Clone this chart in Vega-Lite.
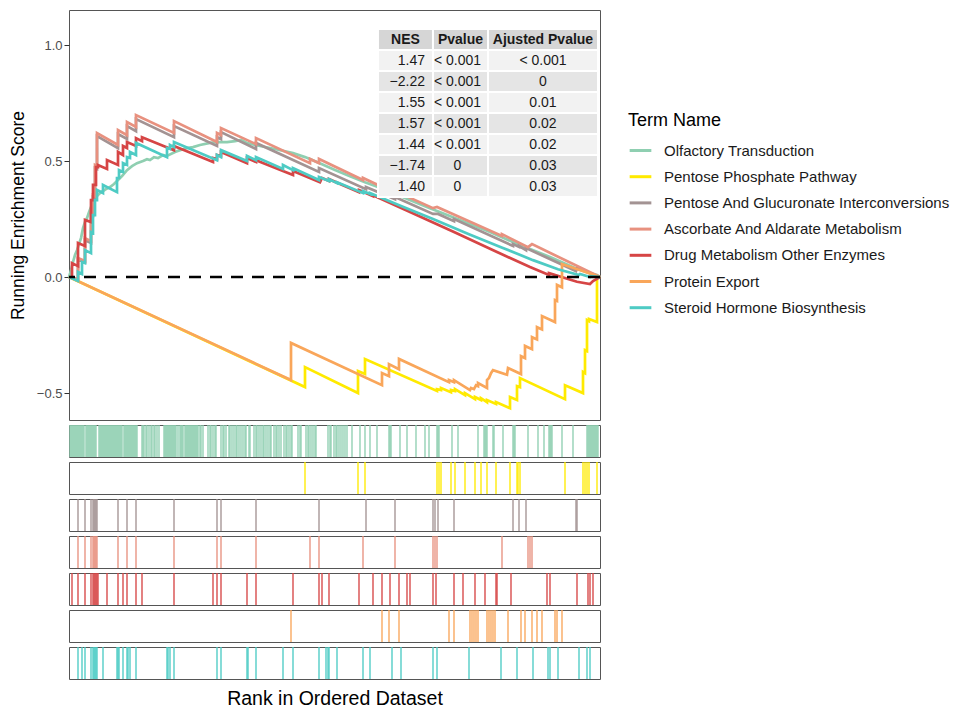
{
"$schema": "https://vega.github.io/schema/vega-lite/v6.json",
"padding": {"left": 8, "top": 9, "right": 5, "bottom": 5},
"background": "white",
"config": {"font": "Liberation Sans", "view": {"stroke": "#555555", "strokeWidth": 1}, "axis": {"grid": false}},
"datasets": {
"curves": [
{"term":"Olfactory Transduction","rank":0,"es":0},{"term":"Olfactory Transduction","rank":2,"es":0.030},{"term":"Olfactory Transduction","rank":4,"es":0.065},{"term":"Olfactory Transduction","rank":6,"es":0.095},{"term":"Olfactory Transduction","rank":8,"es":0.116},{"term":"Olfactory Transduction","rank":10,"es":0.142},{"term":"Olfactory Transduction","rank":12,"es":0.168},{"term":"Olfactory Transduction","rank":14,"es":0.211},{"term":"Olfactory Transduction","rank":16,"es":0.237},{"term":"Olfactory Transduction","rank":18,"es":0.254},{"term":"Olfactory Transduction","rank":20,"es":0.280},{"term":"Olfactory Transduction","rank":22,"es":0.302},{"term":"Olfactory Transduction","rank":24,"es":0.319},{"term":"Olfactory Transduction","rank":26,"es":0.336},{"term":"Olfactory Transduction","rank":28,"es":0.349},{"term":"Olfactory Transduction","rank":31,"es":0.362},{"term":"Olfactory Transduction","rank":34,"es":0.371},{"term":"Olfactory Transduction","rank":37,"es":0.379},{"term":"Olfactory Transduction","rank":41,"es":0.388},{"term":"Olfactory Transduction","rank":45,"es":0.401},{"term":"Olfactory Transduction","rank":49,"es":0.418},{"term":"Olfactory Transduction","rank":53,"es":0.435},{"term":"Olfactory Transduction","rank":58,"es":0.461},{"term":"Olfactory Transduction","rank":63,"es":0.478},{"term":"Olfactory Transduction","rank":68,"es":0.491},{"term":"Olfactory Transduction","rank":74,"es":0.500},{"term":"Olfactory Transduction","rank":78,"es":0.508},{"term":"Olfactory Transduction","rank":81,"es":0.504},{"term":"Olfactory Transduction","rank":85,"es":0.517},{"term":"Olfactory Transduction","rank":89,"es":0.513},{"term":"Olfactory Transduction","rank":94,"es":0.526},{"term":"Olfactory Transduction","rank":98,"es":0.522},{"term":"Olfactory Transduction","rank":106,"es":0.539},{"term":"Olfactory Transduction","rank":111,"es":0.547},{"term":"Olfactory Transduction","rank":118,"es":0.556},{"term":"Olfactory Transduction","rank":124,"es":0.560},{"term":"Olfactory Transduction","rank":131,"es":0.569},{"term":"Olfactory Transduction","rank":141,"es":0.578},{"term":"Olfactory Transduction","rank":149,"es":0.582},{"term":"Olfactory Transduction","rank":158,"es":0.582},{"term":"Olfactory Transduction","rank":166,"es":0.586},{"term":"Olfactory Transduction","rank":172,"es":0.591},{"term":"Olfactory Transduction","rank":178,"es":0.578},{"term":"Olfactory Transduction","rank":191,"es":0.565},{"term":"Olfactory Transduction","rank":206,"es":0.552},{"term":"Olfactory Transduction","rank":224,"es":0.534},{"term":"Olfactory Transduction","rank":236,"es":0.517},{"term":"Olfactory Transduction","rank":248,"es":0.496},{"term":"Olfactory Transduction","rank":266,"es":0.461},{"term":"Olfactory Transduction","rank":281,"es":0.435},{"term":"Olfactory Transduction","rank":296,"es":0.409},{"term":"Olfactory Transduction","rank":309,"es":0.388},{"term":"Olfactory Transduction","rank":331,"es":0.349},{"term":"Olfactory Transduction","rank":361,"es":0.297},{"term":"Olfactory Transduction","rank":391,"es":0.246},{"term":"Olfactory Transduction","rank":421,"es":0.194},{"term":"Olfactory Transduction","rank":451,"es":0.138},{"term":"Olfactory Transduction","rank":481,"es":0.086},{"term":"Olfactory Transduction","rank":506,"es":0.039},{"term":"Olfactory Transduction","rank":521,"es":0.017},{"term":"Olfactory Transduction","rank":528,"es":0.009},{"term":"Olfactory Transduction","rank":531,"es":0},
{"term":"Pentose Phosphate Pathway","rank":0,"es":0},{"term":"Pentose Phosphate Pathway","rank":236,"es":-0.474},{"term":"Pentose Phosphate Pathway","rank":236,"es":-0.388},{"term":"Pentose Phosphate Pathway","rank":289,"es":-0.500},{"term":"Pentose Phosphate Pathway","rank":289,"es":-0.405},{"term":"Pentose Phosphate Pathway","rank":296,"es":-0.418},{"term":"Pentose Phosphate Pathway","rank":296,"es":-0.353},{"term":"Pentose Phosphate Pathway","rank":368,"es":-0.491},{"term":"Pentose Phosphate Pathway","rank":368,"es":-0.483},{"term":"Pentose Phosphate Pathway","rank":372,"es":-0.487},{"term":"Pentose Phosphate Pathway","rank":372,"es":-0.478},{"term":"Pentose Phosphate Pathway","rank":382,"es":-0.496},{"term":"Pentose Phosphate Pathway","rank":382,"es":-0.487},{"term":"Pentose Phosphate Pathway","rank":386,"es":-0.491},{"term":"Pentose Phosphate Pathway","rank":386,"es":-0.483},{"term":"Pentose Phosphate Pathway","rank":396,"es":-0.509},{"term":"Pentose Phosphate Pathway","rank":396,"es":-0.500},{"term":"Pentose Phosphate Pathway","rank":406,"es":-0.526},{"term":"Pentose Phosphate Pathway","rank":406,"es":-0.517},{"term":"Pentose Phosphate Pathway","rank":412,"es":-0.530},{"term":"Pentose Phosphate Pathway","rank":412,"es":-0.522},{"term":"Pentose Phosphate Pathway","rank":418,"es":-0.539},{"term":"Pentose Phosphate Pathway","rank":418,"es":-0.530},{"term":"Pentose Phosphate Pathway","rank":427,"es":-0.547},{"term":"Pentose Phosphate Pathway","rank":427,"es":-0.539},{"term":"Pentose Phosphate Pathway","rank":441,"es":-0.565},{"term":"Pentose Phosphate Pathway","rank":441,"es":-0.517},{"term":"Pentose Phosphate Pathway","rank":448,"es":-0.530},{"term":"Pentose Phosphate Pathway","rank":448,"es":-0.470},{"term":"Pentose Phosphate Pathway","rank":451,"es":-0.474},{"term":"Pentose Phosphate Pathway","rank":451,"es":-0.435},{"term":"Pentose Phosphate Pathway","rank":496,"es":-0.526},{"term":"Pentose Phosphate Pathway","rank":496,"es":-0.466},{"term":"Pentose Phosphate Pathway","rank":514,"es":-0.500},{"term":"Pentose Phosphate Pathway","rank":514,"es":-0.409},{"term":"Pentose Phosphate Pathway","rank":516,"es":-0.414},{"term":"Pentose Phosphate Pathway","rank":516,"es":-0.315},{"term":"Pentose Phosphate Pathway","rank":518,"es":-0.319},{"term":"Pentose Phosphate Pathway","rank":518,"es":-0.185},{"term":"Pentose Phosphate Pathway","rank":520,"es":-0.190},{"term":"Pentose Phosphate Pathway","rank":520,"es":-0.181},{"term":"Pentose Phosphate Pathway","rank":528,"es":-0.194},{"term":"Pentose Phosphate Pathway","rank":528,"es":-0.004},{"term":"Pentose Phosphate Pathway","rank":531,"es":0},
{"term":"Pentose And Glucuronate Interconversions","rank":0,"es":0},{"term":"Pentose And Glucuronate Interconversions","rank":9,"es":-0.009},{"term":"Pentose And Glucuronate Interconversions","rank":9,"es":0.078},{"term":"Pentose And Glucuronate Interconversions","rank":16,"es":0.065},{"term":"Pentose And Glucuronate Interconversions","rank":16,"es":0.159},{"term":"Pentose And Glucuronate Interconversions","rank":22,"es":0.147},{"term":"Pentose And Glucuronate Interconversions","rank":22,"es":0.272},{"term":"Pentose And Glucuronate Interconversions","rank":24,"es":0.267},{"term":"Pentose And Glucuronate Interconversions","rank":24,"es":0.345},{"term":"Pentose And Glucuronate Interconversions","rank":26,"es":0.341},{"term":"Pentose And Glucuronate Interconversions","rank":26,"es":0.470},{"term":"Pentose And Glucuronate Interconversions","rank":28,"es":0.466},{"term":"Pentose And Glucuronate Interconversions","rank":28,"es":0.608},{"term":"Pentose And Glucuronate Interconversions","rank":49,"es":0.556},{"term":"Pentose And Glucuronate Interconversions","rank":49,"es":0.616},{"term":"Pentose And Glucuronate Interconversions","rank":58,"es":0.595},{"term":"Pentose And Glucuronate Interconversions","rank":58,"es":0.651},{"term":"Pentose And Glucuronate Interconversions","rank":67,"es":0.629},{"term":"Pentose And Glucuronate Interconversions","rank":67,"es":0.681},{"term":"Pentose And Glucuronate Interconversions","rank":105,"es":0.603},{"term":"Pentose And Glucuronate Interconversions","rank":105,"es":0.651},{"term":"Pentose And Glucuronate Interconversions","rank":148,"es":0.565},{"term":"Pentose And Glucuronate Interconversions","rank":148,"es":0.603},{"term":"Pentose And Glucuronate Interconversions","rank":152,"es":0.595},{"term":"Pentose And Glucuronate Interconversions","rank":152,"es":0.625},{"term":"Pentose And Glucuronate Interconversions","rank":187,"es":0.552},{"term":"Pentose And Glucuronate Interconversions","rank":187,"es":0.578},{"term":"Pentose And Glucuronate Interconversions","rank":250,"es":0.453},{"term":"Pentose And Glucuronate Interconversions","rank":250,"es":0.470},{"term":"Pentose And Glucuronate Interconversions","rank":297,"es":0.379},{"term":"Pentose And Glucuronate Interconversions","rank":297,"es":0.388},{"term":"Pentose And Glucuronate Interconversions","rank":326,"es":0.336},{"term":"Pentose And Glucuronate Interconversions","rank":326,"es":0.345},{"term":"Pentose And Glucuronate Interconversions","rank":364,"es":0.272},{"term":"Pentose And Glucuronate Interconversions","rank":369,"es":0.272},{"term":"Pentose And Glucuronate Interconversions","rank":385,"es":0.241},{"term":"Pentose And Glucuronate Interconversions","rank":385,"es":0.250},{"term":"Pentose And Glucuronate Interconversions","rank":444,"es":0.134},{"term":"Pentose And Glucuronate Interconversions","rank":444,"es":0.142},{"term":"Pentose And Glucuronate Interconversions","rank":450,"es":0.130},{"term":"Pentose And Glucuronate Interconversions","rank":450,"es":0.134},{"term":"Pentose And Glucuronate Interconversions","rank":457,"es":0.116},{"term":"Pentose And Glucuronate Interconversions","rank":457,"es":0.125},{"term":"Pentose And Glucuronate Interconversions","rank":507,"es":0.026},{"term":"Pentose And Glucuronate Interconversions","rank":508,"es":0.039},{"term":"Pentose And Glucuronate Interconversions","rank":531,"es":0},
{"term":"Ascorbate And Aldarate Metabolism","rank":0,"es":0},{"term":"Ascorbate And Aldarate Metabolism","rank":9,"es":-0.009},{"term":"Ascorbate And Aldarate Metabolism","rank":9,"es":0.082},{"term":"Ascorbate And Aldarate Metabolism","rank":16,"es":0.069},{"term":"Ascorbate And Aldarate Metabolism","rank":16,"es":0.168},{"term":"Ascorbate And Aldarate Metabolism","rank":22,"es":0.155},{"term":"Ascorbate And Aldarate Metabolism","rank":22,"es":0.280},{"term":"Ascorbate And Aldarate Metabolism","rank":24,"es":0.276},{"term":"Ascorbate And Aldarate Metabolism","rank":24,"es":0.353},{"term":"Ascorbate And Aldarate Metabolism","rank":26,"es":0.349},{"term":"Ascorbate And Aldarate Metabolism","rank":26,"es":0.483},{"term":"Ascorbate And Aldarate Metabolism","rank":28,"es":0.478},{"term":"Ascorbate And Aldarate Metabolism","rank":28,"es":0.621},{"term":"Ascorbate And Aldarate Metabolism","rank":49,"es":0.569},{"term":"Ascorbate And Aldarate Metabolism","rank":49,"es":0.634},{"term":"Ascorbate And Aldarate Metabolism","rank":58,"es":0.612},{"term":"Ascorbate And Aldarate Metabolism","rank":58,"es":0.668},{"term":"Ascorbate And Aldarate Metabolism","rank":67,"es":0.647},{"term":"Ascorbate And Aldarate Metabolism","rank":67,"es":0.698},{"term":"Ascorbate And Aldarate Metabolism","rank":105,"es":0.621},{"term":"Ascorbate And Aldarate Metabolism","rank":105,"es":0.672},{"term":"Ascorbate And Aldarate Metabolism","rank":148,"es":0.582},{"term":"Ascorbate And Aldarate Metabolism","rank":148,"es":0.621},{"term":"Ascorbate And Aldarate Metabolism","rank":152,"es":0.612},{"term":"Ascorbate And Aldarate Metabolism","rank":152,"es":0.642},{"term":"Ascorbate And Aldarate Metabolism","rank":187,"es":0.573},{"term":"Ascorbate And Aldarate Metabolism","rank":187,"es":0.599},{"term":"Ascorbate And Aldarate Metabolism","rank":241,"es":0.491},{"term":"Ascorbate And Aldarate Metabolism","rank":241,"es":0.509},{"term":"Ascorbate And Aldarate Metabolism","rank":250,"es":0.491},{"term":"Ascorbate And Aldarate Metabolism","rank":250,"es":0.509},{"term":"Ascorbate And Aldarate Metabolism","rank":294,"es":0.418},{"term":"Ascorbate And Aldarate Metabolism","rank":294,"es":0.427},{"term":"Ascorbate And Aldarate Metabolism","rank":326,"es":0.362},{"term":"Ascorbate And Aldarate Metabolism","rank":326,"es":0.371},{"term":"Ascorbate And Aldarate Metabolism","rank":364,"es":0.297},{"term":"Ascorbate And Aldarate Metabolism","rank":368,"es":0.302},{"term":"Ascorbate And Aldarate Metabolism","rank":433,"es":0.177},{"term":"Ascorbate And Aldarate Metabolism","rank":433,"es":0.185},{"term":"Ascorbate And Aldarate Metabolism","rank":459,"es":0.129},{"term":"Ascorbate And Aldarate Metabolism","rank":463,"es":0.142},{"term":"Ascorbate And Aldarate Metabolism","rank":531,"es":0},
{"term":"Drug Metabolism Other Enzymes","rank":0,"es":0},{"term":"Drug Metabolism Other Enzymes","rank":3,"es":-0.004},{"term":"Drug Metabolism Other Enzymes","rank":3,"es":0.060},{"term":"Drug Metabolism Other Enzymes","rank":9,"es":0.047},{"term":"Drug Metabolism Other Enzymes","rank":9,"es":0.147},{"term":"Drug Metabolism Other Enzymes","rank":16,"es":0.134},{"term":"Drug Metabolism Other Enzymes","rank":16,"es":0.246},{"term":"Drug Metabolism Other Enzymes","rank":22,"es":0.237},{"term":"Drug Metabolism Other Enzymes","rank":22,"es":0.332},{"term":"Drug Metabolism Other Enzymes","rank":24,"es":0.332},{"term":"Drug Metabolism Other Enzymes","rank":24,"es":0.397},{"term":"Drug Metabolism Other Enzymes","rank":27,"es":0.397},{"term":"Drug Metabolism Other Enzymes","rank":27,"es":0.474},{"term":"Drug Metabolism Other Enzymes","rank":29,"es":0.474},{"term":"Drug Metabolism Other Enzymes","rank":29,"es":0.483},{"term":"Drug Metabolism Other Enzymes","rank":38,"es":0.466},{"term":"Drug Metabolism Other Enzymes","rank":38,"es":0.504},{"term":"Drug Metabolism Other Enzymes","rank":49,"es":0.483},{"term":"Drug Metabolism Other Enzymes","rank":49,"es":0.539},{"term":"Drug Metabolism Other Enzymes","rank":54,"es":0.526},{"term":"Drug Metabolism Other Enzymes","rank":54,"es":0.565},{"term":"Drug Metabolism Other Enzymes","rank":58,"es":0.556},{"term":"Drug Metabolism Other Enzymes","rank":58,"es":0.582},{"term":"Drug Metabolism Other Enzymes","rank":67,"es":0.565},{"term":"Drug Metabolism Other Enzymes","rank":67,"es":0.599},{"term":"Drug Metabolism Other Enzymes","rank":73,"es":0.586},{"term":"Drug Metabolism Other Enzymes","rank":73,"es":0.603},{"term":"Drug Metabolism Other Enzymes","rank":105,"es":0.547},{"term":"Drug Metabolism Other Enzymes","rank":105,"es":0.565},{"term":"Drug Metabolism Other Enzymes","rank":144,"es":0.496},{"term":"Drug Metabolism Other Enzymes","rank":144,"es":0.513},{"term":"Drug Metabolism Other Enzymes","rank":148,"es":0.509},{"term":"Drug Metabolism Other Enzymes","rank":148,"es":0.526},{"term":"Drug Metabolism Other Enzymes","rank":152,"es":0.522},{"term":"Drug Metabolism Other Enzymes","rank":152,"es":0.539},{"term":"Drug Metabolism Other Enzymes","rank":178,"es":0.491},{"term":"Drug Metabolism Other Enzymes","rank":178,"es":0.513},{"term":"Drug Metabolism Other Enzymes","rank":187,"es":0.496},{"term":"Drug Metabolism Other Enzymes","rank":187,"es":0.504},{"term":"Drug Metabolism Other Enzymes","rank":224,"es":0.440},{"term":"Drug Metabolism Other Enzymes","rank":224,"es":0.457},{"term":"Drug Metabolism Other Enzymes","rank":251,"es":0.409},{"term":"Drug Metabolism Other Enzymes","rank":253,"es":0.427},{"term":"Drug Metabolism Other Enzymes","rank":260,"es":0.414},{"term":"Drug Metabolism Other Enzymes","rank":260,"es":0.422},{"term":"Drug Metabolism Other Enzymes","rank":290,"es":0.366},{"term":"Drug Metabolism Other Enzymes","rank":290,"es":0.375},{"term":"Drug Metabolism Other Enzymes","rank":304,"es":0.349},{"term":"Drug Metabolism Other Enzymes","rank":304,"es":0.353},{"term":"Drug Metabolism Other Enzymes","rank":341,"es":0.280},{"term":"Drug Metabolism Other Enzymes","rank":385,"es":0.194},{"term":"Drug Metabolism Other Enzymes","rank":428,"es":0.108},{"term":"Drug Metabolism Other Enzymes","rank":461,"es":0.043},{"term":"Drug Metabolism Other Enzymes","rank":480,"es":0.009},{"term":"Drug Metabolism Other Enzymes","rank":480,"es":0.017},{"term":"Drug Metabolism Other Enzymes","rank":508,"es":-0.020},{"term":"Drug Metabolism Other Enzymes","rank":521,"es":-0.030},{"term":"Drug Metabolism Other Enzymes","rank":524,"es":-0.017},{"term":"Drug Metabolism Other Enzymes","rank":531,"es":0},
{"term":"Protein Export","rank":0,"es":0},{"term":"Protein Export","rank":222,"es":-0.444},{"term":"Protein Export","rank":222,"es":-0.284},{"term":"Protein Export","rank":313,"es":-0.466},{"term":"Protein Export","rank":313,"es":-0.414},{"term":"Protein Export","rank":320,"es":-0.427},{"term":"Protein Export","rank":320,"es":-0.375},{"term":"Protein Export","rank":330,"es":-0.397},{"term":"Protein Export","rank":330,"es":-0.353},{"term":"Protein Export","rank":380,"es":-0.453},{"term":"Protein Export","rank":380,"es":-0.444},{"term":"Protein Export","rank":385,"es":-0.453},{"term":"Protein Export","rank":385,"es":-0.444},{"term":"Protein Export","rank":401,"es":-0.487},{"term":"Protein Export","rank":402,"es":-0.478},{"term":"Protein Export","rank":405,"es":-0.483},{"term":"Protein Export","rank":407,"es":-0.466},{"term":"Protein Export","rank":409,"es":-0.470},{"term":"Protein Export","rank":409,"es":-0.457},{"term":"Protein Export","rank":418,"es":-0.478},{"term":"Protein Export","rank":418,"es":-0.444},{"term":"Protein Export","rank":420,"es":-0.435},{"term":"Protein Export","rank":422,"es":-0.414},{"term":"Protein Export","rank":424,"es":-0.401},{"term":"Protein Export","rank":438,"es":-0.421},{"term":"Protein Export","rank":439,"es":-0.392},{"term":"Protein Export","rank":452,"es":-0.418},{"term":"Protein Export","rank":452,"es":-0.341},{"term":"Protein Export","rank":456,"es":-0.349},{"term":"Protein Export","rank":456,"es":-0.297},{"term":"Protein Export","rank":463,"es":-0.311},{"term":"Protein Export","rank":463,"es":-0.259},{"term":"Protein Export","rank":468,"es":-0.269},{"term":"Protein Export","rank":468,"es":-0.216},{"term":"Protein Export","rank":473,"es":-0.226},{"term":"Protein Export","rank":473,"es":-0.168},{"term":"Protein Export","rank":486,"es":-0.194},{"term":"Protein Export","rank":486,"es":-0.099},{"term":"Protein Export","rank":488,"es":-0.103},{"term":"Protein Export","rank":488,"es":-0.034},{"term":"Protein Export","rank":493,"es":-0.044},{"term":"Protein Export","rank":493,"es":0.056},{"term":"Protein Export","rank":531,"es":0},
{"term":"Steroid Hormone Biosynthesis","rank":0,"es":0},{"term":"Steroid Hormone Biosynthesis","rank":9,"es":-0.017},{"term":"Steroid Hormone Biosynthesis","rank":9,"es":0.022},{"term":"Steroid Hormone Biosynthesis","rank":13,"es":0.013},{"term":"Steroid Hormone Biosynthesis","rank":13,"es":0.065},{"term":"Steroid Hormone Biosynthesis","rank":16,"es":0.060},{"term":"Steroid Hormone Biosynthesis","rank":16,"es":0.116},{"term":"Steroid Hormone Biosynthesis","rank":22,"es":0.103},{"term":"Steroid Hormone Biosynthesis","rank":22,"es":0.194},{"term":"Steroid Hormone Biosynthesis","rank":24,"es":0.190},{"term":"Steroid Hormone Biosynthesis","rank":24,"es":0.267},{"term":"Steroid Hormone Biosynthesis","rank":26,"es":0.267},{"term":"Steroid Hormone Biosynthesis","rank":26,"es":0.332},{"term":"Steroid Hormone Biosynthesis","rank":28,"es":0.332},{"term":"Steroid Hormone Biosynthesis","rank":28,"es":0.375},{"term":"Steroid Hormone Biosynthesis","rank":34,"es":0.362},{"term":"Steroid Hormone Biosynthesis","rank":34,"es":0.397},{"term":"Steroid Hormone Biosynthesis","rank":48,"es":0.366},{"term":"Steroid Hormone Biosynthesis","rank":48,"es":0.427},{"term":"Steroid Hormone Biosynthesis","rank":50,"es":0.427},{"term":"Steroid Hormone Biosynthesis","rank":50,"es":0.461},{"term":"Steroid Hormone Biosynthesis","rank":54,"es":0.453},{"term":"Steroid Hormone Biosynthesis","rank":54,"es":0.491},{"term":"Steroid Hormone Biosynthesis","rank":58,"es":0.483},{"term":"Steroid Hormone Biosynthesis","rank":58,"es":0.517},{"term":"Steroid Hormone Biosynthesis","rank":61,"es":0.513},{"term":"Steroid Hormone Biosynthesis","rank":61,"es":0.539},{"term":"Steroid Hormone Biosynthesis","rank":67,"es":0.526},{"term":"Steroid Hormone Biosynthesis","rank":67,"es":0.578},{"term":"Steroid Hormone Biosynthesis","rank":98,"es":0.517},{"term":"Steroid Hormone Biosynthesis","rank":98,"es":0.556},{"term":"Steroid Hormone Biosynthesis","rank":101,"es":0.552},{"term":"Steroid Hormone Biosynthesis","rank":101,"es":0.569},{"term":"Steroid Hormone Biosynthesis","rank":105,"es":0.560},{"term":"Steroid Hormone Biosynthesis","rank":105,"es":0.582},{"term":"Steroid Hormone Biosynthesis","rank":148,"es":0.504},{"term":"Steroid Hormone Biosynthesis","rank":148,"es":0.526},{"term":"Steroid Hormone Biosynthesis","rank":152,"es":0.517},{"term":"Steroid Hormone Biosynthesis","rank":152,"es":0.547},{"term":"Steroid Hormone Biosynthesis","rank":178,"es":0.500},{"term":"Steroid Hormone Biosynthesis","rank":178,"es":0.522},{"term":"Steroid Hormone Biosynthesis","rank":187,"es":0.504},{"term":"Steroid Hormone Biosynthesis","rank":187,"es":0.517},{"term":"Steroid Hormone Biosynthesis","rank":214,"es":0.466},{"term":"Steroid Hormone Biosynthesis","rank":214,"es":0.483},{"term":"Steroid Hormone Biosynthesis","rank":224,"es":0.461},{"term":"Steroid Hormone Biosynthesis","rank":224,"es":0.470},{"term":"Steroid Hormone Biosynthesis","rank":250,"es":0.418},{"term":"Steroid Hormone Biosynthesis","rank":250,"es":0.431},{"term":"Steroid Hormone Biosynthesis","rank":260,"es":0.414},{"term":"Steroid Hormone Biosynthesis","rank":260,"es":0.422},{"term":"Steroid Hormone Biosynthesis","rank":268,"es":0.405},{"term":"Steroid Hormone Biosynthesis","rank":268,"es":0.409},{"term":"Steroid Hormone Biosynthesis","rank":294,"es":0.362},{"term":"Steroid Hormone Biosynthesis","rank":294,"es":0.371},{"term":"Steroid Hormone Biosynthesis","rank":301,"es":0.358},{"term":"Steroid Hormone Biosynthesis","rank":301,"es":0.362},{"term":"Steroid Hormone Biosynthesis","rank":332,"es":0.306},{"term":"Steroid Hormone Biosynthesis","rank":364,"es":0.250},{"term":"Steroid Hormone Biosynthesis","rank":400,"es":0.185},{"term":"Steroid Hormone Biosynthesis","rank":432,"es":0.129},{"term":"Steroid Hormone Biosynthesis","rank":464,"es":0.073},{"term":"Steroid Hormone Biosynthesis","rank":489,"es":0.034},{"term":"Steroid Hormone Biosynthesis","rank":510,"es":0.009},{"term":"Steroid Hormone Biosynthesis","rank":511,"es":0.013},{"term":"Steroid Hormone Biosynthesis","rank":521,"es":0},{"term":"Steroid Hormone Biosynthesis","rank":522,"es":0.004},{"term":"Steroid Hormone Biosynthesis","rank":531,"es":0}
],
"hits": [
{"term":"Olfactory Transduction","rank":1},{"term":"Olfactory Transduction","rank":2},{"term":"Olfactory Transduction","rank":3},{"term":"Olfactory Transduction","rank":4},{"term":"Olfactory Transduction","rank":5},{"term":"Olfactory Transduction","rank":6},{"term":"Olfactory Transduction","rank":7},{"term":"Olfactory Transduction","rank":8},{"term":"Olfactory Transduction","rank":9},{"term":"Olfactory Transduction","rank":10},{"term":"Olfactory Transduction","rank":11},{"term":"Olfactory Transduction","rank":12},{"term":"Olfactory Transduction","rank":13},{"term":"Olfactory Transduction","rank":14},{"term":"Olfactory Transduction","rank":15},{"term":"Olfactory Transduction","rank":17},{"term":"Olfactory Transduction","rank":18},{"term":"Olfactory Transduction","rank":19},{"term":"Olfactory Transduction","rank":20},{"term":"Olfactory Transduction","rank":21},{"term":"Olfactory Transduction","rank":22},{"term":"Olfactory Transduction","rank":23},{"term":"Olfactory Transduction","rank":24},{"term":"Olfactory Transduction","rank":25},{"term":"Olfactory Transduction","rank":26},{"term":"Olfactory Transduction","rank":27},{"term":"Olfactory Transduction","rank":30},{"term":"Olfactory Transduction","rank":31},{"term":"Olfactory Transduction","rank":32},{"term":"Olfactory Transduction","rank":33},{"term":"Olfactory Transduction","rank":34},{"term":"Olfactory Transduction","rank":35},{"term":"Olfactory Transduction","rank":36},{"term":"Olfactory Transduction","rank":37},{"term":"Olfactory Transduction","rank":38},{"term":"Olfactory Transduction","rank":39},{"term":"Olfactory Transduction","rank":40},{"term":"Olfactory Transduction","rank":41},{"term":"Olfactory Transduction","rank":42},{"term":"Olfactory Transduction","rank":43},{"term":"Olfactory Transduction","rank":44},{"term":"Olfactory Transduction","rank":45},{"term":"Olfactory Transduction","rank":46},{"term":"Olfactory Transduction","rank":47},{"term":"Olfactory Transduction","rank":48},{"term":"Olfactory Transduction","rank":49},{"term":"Olfactory Transduction","rank":50},{"term":"Olfactory Transduction","rank":51},{"term":"Olfactory Transduction","rank":52},{"term":"Olfactory Transduction","rank":53},{"term":"Olfactory Transduction","rank":55},{"term":"Olfactory Transduction","rank":56},{"term":"Olfactory Transduction","rank":57},{"term":"Olfactory Transduction","rank":58},{"term":"Olfactory Transduction","rank":59},{"term":"Olfactory Transduction","rank":60},{"term":"Olfactory Transduction","rank":61},{"term":"Olfactory Transduction","rank":62},{"term":"Olfactory Transduction","rank":63},{"term":"Olfactory Transduction","rank":64},{"term":"Olfactory Transduction","rank":65},{"term":"Olfactory Transduction","rank":66},{"term":"Olfactory Transduction","rank":67},{"term":"Olfactory Transduction","rank":68},
{"term":"Olfactory Transduction","rank":73},{"term":"Olfactory Transduction","rank":74},{"term":"Olfactory Transduction","rank":75},{"term":"Olfactory Transduction","rank":77},{"term":"Olfactory Transduction","rank":78},{"term":"Olfactory Transduction","rank":80},{"term":"Olfactory Transduction","rank":82},{"term":"Olfactory Transduction","rank":83},{"term":"Olfactory Transduction","rank":85},{"term":"Olfactory Transduction","rank":86},{"term":"Olfactory Transduction","rank":88},{"term":"Olfactory Transduction","rank":90},{"term":"Olfactory Transduction","rank":95},{"term":"Olfactory Transduction","rank":96},{"term":"Olfactory Transduction","rank":97},{"term":"Olfactory Transduction","rank":98},{"term":"Olfactory Transduction","rank":99},{"term":"Olfactory Transduction","rank":100},{"term":"Olfactory Transduction","rank":101},{"term":"Olfactory Transduction","rank":102},{"term":"Olfactory Transduction","rank":103},{"term":"Olfactory Transduction","rank":104},{"term":"Olfactory Transduction","rank":105},{"term":"Olfactory Transduction","rank":106},{"term":"Olfactory Transduction","rank":107},{"term":"Olfactory Transduction","rank":109},{"term":"Olfactory Transduction","rank":111},{"term":"Olfactory Transduction","rank":112},{"term":"Olfactory Transduction","rank":113},{"term":"Olfactory Transduction","rank":114},{"term":"Olfactory Transduction","rank":116},{"term":"Olfactory Transduction","rank":117},{"term":"Olfactory Transduction","rank":118},{"term":"Olfactory Transduction","rank":119},{"term":"Olfactory Transduction","rank":120},{"term":"Olfactory Transduction","rank":121},{"term":"Olfactory Transduction","rank":122},{"term":"Olfactory Transduction","rank":123},{"term":"Olfactory Transduction","rank":124},{"term":"Olfactory Transduction","rank":125},{"term":"Olfactory Transduction","rank":126},{"term":"Olfactory Transduction","rank":127},{"term":"Olfactory Transduction","rank":128},{"term":"Olfactory Transduction","rank":129},
{"term":"Olfactory Transduction","rank":131},{"term":"Olfactory Transduction","rank":132},{"term":"Olfactory Transduction","rank":134},{"term":"Olfactory Transduction","rank":139},{"term":"Olfactory Transduction","rank":141},{"term":"Olfactory Transduction","rank":142},{"term":"Olfactory Transduction","rank":144},{"term":"Olfactory Transduction","rank":146},{"term":"Olfactory Transduction","rank":147},{"term":"Olfactory Transduction","rank":152},{"term":"Olfactory Transduction","rank":154},{"term":"Olfactory Transduction","rank":155},{"term":"Olfactory Transduction","rank":157},{"term":"Olfactory Transduction","rank":160},{"term":"Olfactory Transduction","rank":161},{"term":"Olfactory Transduction","rank":163},{"term":"Olfactory Transduction","rank":165},{"term":"Olfactory Transduction","rank":167},{"term":"Olfactory Transduction","rank":168},{"term":"Olfactory Transduction","rank":170},{"term":"Olfactory Transduction","rank":172},{"term":"Olfactory Transduction","rank":174},{"term":"Olfactory Transduction","rank":176},{"term":"Olfactory Transduction","rank":177},{"term":"Olfactory Transduction","rank":180},{"term":"Olfactory Transduction","rank":181},{"term":"Olfactory Transduction","rank":185},{"term":"Olfactory Transduction","rank":187},{"term":"Olfactory Transduction","rank":188},{"term":"Olfactory Transduction","rank":190},{"term":"Olfactory Transduction","rank":192},{"term":"Olfactory Transduction","rank":194},{"term":"Olfactory Transduction","rank":195},{"term":"Olfactory Transduction","rank":197},{"term":"Olfactory Transduction","rank":199},{"term":"Olfactory Transduction","rank":201},{"term":"Olfactory Transduction","rank":202},{"term":"Olfactory Transduction","rank":205},{"term":"Olfactory Transduction","rank":207},{"term":"Olfactory Transduction","rank":208},{"term":"Olfactory Transduction","rank":210},{"term":"Olfactory Transduction","rank":212},{"term":"Olfactory Transduction","rank":215},{"term":"Olfactory Transduction","rank":217},{"term":"Olfactory Transduction","rank":218},{"term":"Olfactory Transduction","rank":220},{"term":"Olfactory Transduction","rank":222},{"term":"Olfactory Transduction","rank":223},{"term":"Olfactory Transduction","rank":229},{"term":"Olfactory Transduction","rank":231},{"term":"Olfactory Transduction","rank":232},{"term":"Olfactory Transduction","rank":237},{"term":"Olfactory Transduction","rank":239},{"term":"Olfactory Transduction","rank":240},{"term":"Olfactory Transduction","rank":242},{"term":"Olfactory Transduction","rank":244},{"term":"Olfactory Transduction","rank":246},{"term":"Olfactory Transduction","rank":247},{"term":"Olfactory Transduction","rank":259},{"term":"Olfactory Transduction","rank":261},{"term":"Olfactory Transduction","rank":262},{"term":"Olfactory Transduction","rank":265},{"term":"Olfactory Transduction","rank":267},{"term":"Olfactory Transduction","rank":268},{"term":"Olfactory Transduction","rank":270},
{"term":"Olfactory Transduction","rank":272},{"term":"Olfactory Transduction","rank":274},{"term":"Olfactory Transduction","rank":276},{"term":"Olfactory Transduction","rank":278},{"term":"Olfactory Transduction","rank":283},{"term":"Olfactory Transduction","rank":291},{"term":"Olfactory Transduction","rank":296},{"term":"Olfactory Transduction","rank":301},{"term":"Olfactory Transduction","rank":308},{"term":"Olfactory Transduction","rank":320},{"term":"Olfactory Transduction","rank":321},{"term":"Olfactory Transduction","rank":322},{"term":"Olfactory Transduction","rank":331},{"term":"Olfactory Transduction","rank":338},{"term":"Olfactory Transduction","rank":347},{"term":"Olfactory Transduction","rank":356},{"term":"Olfactory Transduction","rank":360},{"term":"Olfactory Transduction","rank":368},{"term":"Olfactory Transduction","rank":369},{"term":"Olfactory Transduction","rank":370},{"term":"Olfactory Transduction","rank":383},{"term":"Olfactory Transduction","rank":389},{"term":"Olfactory Transduction","rank":409},{"term":"Olfactory Transduction","rank":415},{"term":"Olfactory Transduction","rank":416},{"term":"Olfactory Transduction","rank":417},{"term":"Olfactory Transduction","rank":418},{"term":"Olfactory Transduction","rank":424},{"term":"Olfactory Transduction","rank":425},{"term":"Olfactory Transduction","rank":434},{"term":"Olfactory Transduction","rank":444},{"term":"Olfactory Transduction","rank":445},{"term":"Olfactory Transduction","rank":446},{"term":"Olfactory Transduction","rank":459},{"term":"Olfactory Transduction","rank":469},{"term":"Olfactory Transduction","rank":475},{"term":"Olfactory Transduction","rank":480},{"term":"Olfactory Transduction","rank":481},{"term":"Olfactory Transduction","rank":482},{"term":"Olfactory Transduction","rank":483},{"term":"Olfactory Transduction","rank":493},{"term":"Olfactory Transduction","rank":504},{"term":"Olfactory Transduction","rank":518},{"term":"Olfactory Transduction","rank":519},{"term":"Olfactory Transduction","rank":520},{"term":"Olfactory Transduction","rank":521},{"term":"Olfactory Transduction","rank":522},{"term":"Olfactory Transduction","rank":523},{"term":"Olfactory Transduction","rank":524},{"term":"Olfactory Transduction","rank":525},{"term":"Olfactory Transduction","rank":526},{"term":"Olfactory Transduction","rank":527},{"term":"Olfactory Transduction","rank":528},{"term":"Olfactory Transduction","rank":529},
{"term":"Pentose Phosphate Pathway","rank":236},{"term":"Pentose Phosphate Pathway","rank":289},{"term":"Pentose Phosphate Pathway","rank":296},{"term":"Pentose Phosphate Pathway","rank":368},{"term":"Pentose Phosphate Pathway","rank":370},{"term":"Pentose Phosphate Pathway","rank":372},{"term":"Pentose Phosphate Pathway","rank":382},{"term":"Pentose Phosphate Pathway","rank":386},{"term":"Pentose Phosphate Pathway","rank":396},{"term":"Pentose Phosphate Pathway","rank":406},{"term":"Pentose Phosphate Pathway","rank":412},{"term":"Pentose Phosphate Pathway","rank":418},{"term":"Pentose Phosphate Pathway","rank":427},{"term":"Pentose Phosphate Pathway","rank":441},{"term":"Pentose Phosphate Pathway","rank":448},{"term":"Pentose Phosphate Pathway","rank":449},{"term":"Pentose Phosphate Pathway","rank":451},{"term":"Pentose Phosphate Pathway","rank":496},{"term":"Pentose Phosphate Pathway","rank":514},{"term":"Pentose Phosphate Pathway","rank":516},{"term":"Pentose Phosphate Pathway","rank":518},{"term":"Pentose Phosphate Pathway","rank":520},{"term":"Pentose Phosphate Pathway","rank":528},
{"term":"Pentose And Glucuronate Interconversions","rank":9},{"term":"Pentose And Glucuronate Interconversions","rank":16},{"term":"Pentose And Glucuronate Interconversions","rank":22},{"term":"Pentose And Glucuronate Interconversions","rank":24},{"term":"Pentose And Glucuronate Interconversions","rank":25},{"term":"Pentose And Glucuronate Interconversions","rank":26},{"term":"Pentose And Glucuronate Interconversions","rank":27},{"term":"Pentose And Glucuronate Interconversions","rank":28},{"term":"Pentose And Glucuronate Interconversions","rank":49},{"term":"Pentose And Glucuronate Interconversions","rank":58},{"term":"Pentose And Glucuronate Interconversions","rank":67},{"term":"Pentose And Glucuronate Interconversions","rank":105},{"term":"Pentose And Glucuronate Interconversions","rank":148},{"term":"Pentose And Glucuronate Interconversions","rank":152},{"term":"Pentose And Glucuronate Interconversions","rank":187},{"term":"Pentose And Glucuronate Interconversions","rank":250},{"term":"Pentose And Glucuronate Interconversions","rank":297},{"term":"Pentose And Glucuronate Interconversions","rank":326},{"term":"Pentose And Glucuronate Interconversions","rank":364},{"term":"Pentose And Glucuronate Interconversions","rank":366},{"term":"Pentose And Glucuronate Interconversions","rank":369},{"term":"Pentose And Glucuronate Interconversions","rank":385},{"term":"Pentose And Glucuronate Interconversions","rank":444},{"term":"Pentose And Glucuronate Interconversions","rank":450},{"term":"Pentose And Glucuronate Interconversions","rank":457},{"term":"Pentose And Glucuronate Interconversions","rank":507},{"term":"Pentose And Glucuronate Interconversions","rank":508},
{"term":"Ascorbate And Aldarate Metabolism","rank":9},{"term":"Ascorbate And Aldarate Metabolism","rank":16},{"term":"Ascorbate And Aldarate Metabolism","rank":22},{"term":"Ascorbate And Aldarate Metabolism","rank":24},{"term":"Ascorbate And Aldarate Metabolism","rank":25},{"term":"Ascorbate And Aldarate Metabolism","rank":26},{"term":"Ascorbate And Aldarate Metabolism","rank":27},{"term":"Ascorbate And Aldarate Metabolism","rank":28},{"term":"Ascorbate And Aldarate Metabolism","rank":49},{"term":"Ascorbate And Aldarate Metabolism","rank":58},{"term":"Ascorbate And Aldarate Metabolism","rank":67},{"term":"Ascorbate And Aldarate Metabolism","rank":105},{"term":"Ascorbate And Aldarate Metabolism","rank":148},{"term":"Ascorbate And Aldarate Metabolism","rank":152},{"term":"Ascorbate And Aldarate Metabolism","rank":187},{"term":"Ascorbate And Aldarate Metabolism","rank":241},{"term":"Ascorbate And Aldarate Metabolism","rank":250},{"term":"Ascorbate And Aldarate Metabolism","rank":294},{"term":"Ascorbate And Aldarate Metabolism","rank":326},{"term":"Ascorbate And Aldarate Metabolism","rank":364},{"term":"Ascorbate And Aldarate Metabolism","rank":366},{"term":"Ascorbate And Aldarate Metabolism","rank":368},{"term":"Ascorbate And Aldarate Metabolism","rank":433},{"term":"Ascorbate And Aldarate Metabolism","rank":459},{"term":"Ascorbate And Aldarate Metabolism","rank":461},{"term":"Ascorbate And Aldarate Metabolism","rank":463},
{"term":"Drug Metabolism Other Enzymes","rank":3},{"term":"Drug Metabolism Other Enzymes","rank":9},{"term":"Drug Metabolism Other Enzymes","rank":16},{"term":"Drug Metabolism Other Enzymes","rank":22},{"term":"Drug Metabolism Other Enzymes","rank":24},{"term":"Drug Metabolism Other Enzymes","rank":25},{"term":"Drug Metabolism Other Enzymes","rank":26},{"term":"Drug Metabolism Other Enzymes","rank":27},{"term":"Drug Metabolism Other Enzymes","rank":28},{"term":"Drug Metabolism Other Enzymes","rank":29},{"term":"Drug Metabolism Other Enzymes","rank":38},{"term":"Drug Metabolism Other Enzymes","rank":49},{"term":"Drug Metabolism Other Enzymes","rank":54},{"term":"Drug Metabolism Other Enzymes","rank":58},{"term":"Drug Metabolism Other Enzymes","rank":67},{"term":"Drug Metabolism Other Enzymes","rank":73},{"term":"Drug Metabolism Other Enzymes","rank":105},{"term":"Drug Metabolism Other Enzymes","rank":144},{"term":"Drug Metabolism Other Enzymes","rank":148},{"term":"Drug Metabolism Other Enzymes","rank":152},{"term":"Drug Metabolism Other Enzymes","rank":178},{"term":"Drug Metabolism Other Enzymes","rank":187},{"term":"Drug Metabolism Other Enzymes","rank":224},{"term":"Drug Metabolism Other Enzymes","rank":250},{"term":"Drug Metabolism Other Enzymes","rank":253},{"term":"Drug Metabolism Other Enzymes","rank":260},{"term":"Drug Metabolism Other Enzymes","rank":290},{"term":"Drug Metabolism Other Enzymes","rank":304},{"term":"Drug Metabolism Other Enzymes","rank":313},{"term":"Drug Metabolism Other Enzymes","rank":321},{"term":"Drug Metabolism Other Enzymes","rank":330},{"term":"Drug Metabolism Other Enzymes","rank":338},{"term":"Drug Metabolism Other Enzymes","rank":341},{"term":"Drug Metabolism Other Enzymes","rank":364},{"term":"Drug Metabolism Other Enzymes","rank":367},{"term":"Drug Metabolism Other Enzymes","rank":385},{"term":"Drug Metabolism Other Enzymes","rank":394},{"term":"Drug Metabolism Other Enzymes","rank":406},{"term":"Drug Metabolism Other Enzymes","rank":416},{"term":"Drug Metabolism Other Enzymes","rank":427},{"term":"Drug Metabolism Other Enzymes","rank":428},{"term":"Drug Metabolism Other Enzymes","rank":442},{"term":"Drug Metabolism Other Enzymes","rank":478},{"term":"Drug Metabolism Other Enzymes","rank":481},{"term":"Drug Metabolism Other Enzymes","rank":508},{"term":"Drug Metabolism Other Enzymes","rank":519},{"term":"Drug Metabolism Other Enzymes","rank":521},{"term":"Drug Metabolism Other Enzymes","rank":524},
{"term":"Protein Export","rank":222},{"term":"Protein Export","rank":313},{"term":"Protein Export","rank":320},{"term":"Protein Export","rank":330},{"term":"Protein Export","rank":380},{"term":"Protein Export","rank":385},{"term":"Protein Export","rank":401},{"term":"Protein Export","rank":403},{"term":"Protein Export","rank":405},{"term":"Protein Export","rank":407},{"term":"Protein Export","rank":409},{"term":"Protein Export","rank":418},{"term":"Protein Export","rank":420},{"term":"Protein Export","rank":422},{"term":"Protein Export","rank":424},{"term":"Protein Export","rank":426},{"term":"Protein Export","rank":439},{"term":"Protein Export","rank":452},{"term":"Protein Export","rank":456},{"term":"Protein Export","rank":463},{"term":"Protein Export","rank":468},{"term":"Protein Export","rank":473},{"term":"Protein Export","rank":486},{"term":"Protein Export","rank":488},{"term":"Protein Export","rank":493},
{"term":"Steroid Hormone Biosynthesis","rank":9},{"term":"Steroid Hormone Biosynthesis","rank":13},{"term":"Steroid Hormone Biosynthesis","rank":16},{"term":"Steroid Hormone Biosynthesis","rank":22},{"term":"Steroid Hormone Biosynthesis","rank":24},{"term":"Steroid Hormone Biosynthesis","rank":25},{"term":"Steroid Hormone Biosynthesis","rank":26},{"term":"Steroid Hormone Biosynthesis","rank":27},{"term":"Steroid Hormone Biosynthesis","rank":28},{"term":"Steroid Hormone Biosynthesis","rank":34},{"term":"Steroid Hormone Biosynthesis","rank":48},{"term":"Steroid Hormone Biosynthesis","rank":49},{"term":"Steroid Hormone Biosynthesis","rank":50},{"term":"Steroid Hormone Biosynthesis","rank":54},{"term":"Steroid Hormone Biosynthesis","rank":58},{"term":"Steroid Hormone Biosynthesis","rank":59},{"term":"Steroid Hormone Biosynthesis","rank":61},{"term":"Steroid Hormone Biosynthesis","rank":67},{"term":"Steroid Hormone Biosynthesis","rank":98},{"term":"Steroid Hormone Biosynthesis","rank":99},{"term":"Steroid Hormone Biosynthesis","rank":101},{"term":"Steroid Hormone Biosynthesis","rank":105},{"term":"Steroid Hormone Biosynthesis","rank":148},{"term":"Steroid Hormone Biosynthesis","rank":152},{"term":"Steroid Hormone Biosynthesis","rank":178},{"term":"Steroid Hormone Biosynthesis","rank":179},{"term":"Steroid Hormone Biosynthesis","rank":187},{"term":"Steroid Hormone Biosynthesis","rank":214},{"term":"Steroid Hormone Biosynthesis","rank":224},{"term":"Steroid Hormone Biosynthesis","rank":250},{"term":"Steroid Hormone Biosynthesis","rank":257},{"term":"Steroid Hormone Biosynthesis","rank":259},{"term":"Steroid Hormone Biosynthesis","rank":260},{"term":"Steroid Hormone Biosynthesis","rank":268},{"term":"Steroid Hormone Biosynthesis","rank":294},{"term":"Steroid Hormone Biosynthesis","rank":301},{"term":"Steroid Hormone Biosynthesis","rank":323},{"term":"Steroid Hormone Biosynthesis","rank":332},{"term":"Steroid Hormone Biosynthesis","rank":364},{"term":"Steroid Hormone Biosynthesis","rank":368},{"term":"Steroid Hormone Biosynthesis","rank":400},{"term":"Steroid Hormone Biosynthesis","rank":432},{"term":"Steroid Hormone Biosynthesis","rank":448},{"term":"Steroid Hormone Biosynthesis","rank":464},{"term":"Steroid Hormone Biosynthesis","rank":479},{"term":"Steroid Hormone Biosynthesis","rank":481},{"term":"Steroid Hormone Biosynthesis","rank":489},{"term":"Steroid Hormone Biosynthesis","rank":510},{"term":"Steroid Hormone Biosynthesis","rank":518},{"term":"Steroid Hormone Biosynthesis","rank":521}
],
"table": [
{"row":"h","col":"NES","label":"NES"},{"row":"h","col":"Pvalue","label":"Pvalue"},{"row":"h","col":"Ajusted Pvalue","label":"Ajusted Pvalue"},
{"row":"1","col":"NES","label":"1.47"},{"row":"1","col":"Pvalue","label":"< 0.001"},{"row":"1","col":"Ajusted Pvalue","label":"< 0.001"},
{"row":"2","col":"NES","label":"−2.22"},{"row":"2","col":"Pvalue","label":"< 0.001"},{"row":"2","col":"Ajusted Pvalue","label":"0"},
{"row":"3","col":"NES","label":"1.55"},{"row":"3","col":"Pvalue","label":"< 0.001"},{"row":"3","col":"Ajusted Pvalue","label":"0.01"},
{"row":"4","col":"NES","label":"1.57"},{"row":"4","col":"Pvalue","label":"< 0.001"},{"row":"4","col":"Ajusted Pvalue","label":"0.02"},
{"row":"5","col":"NES","label":"1.44"},{"row":"5","col":"Pvalue","label":"< 0.001"},{"row":"5","col":"Ajusted Pvalue","label":"0.02"},
{"row":"6","col":"NES","label":"−1.74"},{"row":"6","col":"Pvalue","label":"0"},{"row":"6","col":"Ajusted Pvalue","label":"0.03"},
{"row":"7","col":"NES","label":"1.40"},{"row":"7","col":"Pvalue","label":"0"},{"row":"7","col":"Ajusted Pvalue","label":"0.03"}
]
},
"vconcat": [
{
"width": 531, "height": 410,
"layer": [
{
"layer": [
{
"data": {"name": "curves"},
"mark": {"type": "line", "strokeWidth": 2.7, "strokeJoin": "miter"},
"encoding": {
"x": {"field": "rank", "type": "quantitative", "scale": {"domain": [0, 531], "nice": false, "zero": false}, "axis": null},
"y": {"field": "es", "type": "quantitative", "scale": {"domain": [-0.616, 1.151], "nice": false, "zero": false},
"axis": {"values": [-0.5, 0, 0.5, 1], "format": ".1f", "title": "Running Enrichment Score", "titleFontSize": 17.5, "titleFontWeight": "normal", "titleColor": "#000000", "titlePadding": 9, "labelFontSize": 13, "labelColor": "#4d4d4d", "tickColor": "#333333", "tickSize": 5, "labelPadding": 2, "domain": false, "grid": false}},
"color": {"field": "term", "type": "nominal",
"scale": {"domain": ["Olfactory Transduction", "Pentose Phosphate Pathway", "Pentose And Glucuronate Interconversions", "Ascorbate And Aldarate Metabolism", "Drug Metabolism Other Enzymes", "Protein Export", "Steroid Hormone Biosynthesis"],
"range": ["#8fcfb1", "#ffea00", "#a39393", "#e8917f", "#d64545", "#f9a65a", "#4ecbc4"]},
"legend": {"title": "Term Name", "orient": "none", "legendX": 559, "legendY": 102, "titleFontSize": 18, "titleFontWeight": "normal", "titleColor": "#000000", "titlePadding": 8, "labelFontSize": 15, "labelColor": "#1a1a1a", "labelLimit": 0, "symbolType": "stroke", "symbolStrokeWidth": 3, "symbolSize": 470, "rowPadding": 5.2, "labelOffset": 11}},
"order": {"value": null}
}
},
{
"data": {"values": [{}]},
"mark": {"type": "rule", "color": "#000000", "strokeWidth": 2.6, "strokeDash": [12, 9]},
"encoding": {"y": {"datum": 0}}
}
]
},
{
"data": {"name": "table"},
"layer": [
{
"transform": [{"filter": "datum.col != 'Ajusted Pvalue'"}],
"mark": {"type": "rect", "stroke": "white", "strokeWidth": 2},
"encoding": {
"x": {"field": "col", "type": "nominal", "scale": {"type": "band", "domain": ["_1", "_2", "_3", "_4", "_5", "NES", "Pvalue", "Ajusted Pvalue", "pad"], "paddingInner": 0, "paddingOuter": 0.327, "align": 0.944}, "axis": null},
"y": {"field": "row", "type": "nominal", "scale": {"type": "band", "domain": ["h", "1", "2", "3", "4", "5", "6", "7", "_a", "_b", "_c", "_d", "_e", "_f", "_g", "_h", "_i", "_j"], "paddingInner": 0, "paddingOuter": 0.762, "align": 0.594}, "axis": null},
"fill": {"field": "row", "type": "nominal", "scale": {"domain": ["h", "1", "2", "3", "4", "5", "6", "7"], "range": ["#d6d6d6", "#f2f2f2", "#e5e5e5", "#f2f2f2", "#e5e5e5", "#f2f2f2", "#e5e5e5", "#f2f2f2"]}, "legend": null}
}
},
{
"transform": [{"filter": "datum.col == 'Ajusted Pvalue'"}],
"mark": {"type": "rect", "stroke": "white", "strokeWidth": 2},
"encoding": {
"x": {"field": "col", "type": "nominal", "bandPosition": 0},
"x2": {"datum": "pad", "bandPosition": 1},
"y": {"field": "row", "type": "nominal"},
"fill": {"field": "row", "type": "nominal", "legend": null}
}
},
{
"transform": [{"filter": "datum.row == 'h' && datum.col != 'Ajusted Pvalue'"}],
"mark": {"type": "text", "fontSize": 14, "fontWeight": "bold", "color": "#1a1a1a"},
"encoding": {"x": {"field": "col", "type": "nominal"}, "y": {"field": "row", "type": "nominal"}, "text": {"field": "label"}}
},
{
"transform": [{"filter": "datum.row == 'h' && datum.col == 'Ajusted Pvalue'"}],
"mark": {"type": "text", "fontSize": 14, "fontWeight": "bold", "color": "#1a1a1a"},
"encoding": {"x": {"field": "col", "type": "nominal", "bandPosition": 1}, "y": {"field": "row", "type": "nominal"}, "text": {"field": "label"}}
},
{
"transform": [{"filter": "datum.row != 'h' && datum.col == 'NES'"}],
"mark": {"type": "text", "fontSize": 14, "align": "right", "dx": -8, "color": "#1a1a1a"},
"encoding": {"x": {"field": "col", "type": "nominal", "bandPosition": 1}, "y": {"field": "row", "type": "nominal"}, "text": {"field": "label"}}
},
{
"transform": [{"filter": "datum.row != 'h' && datum.col == 'Pvalue'"}],
"mark": {"type": "text", "fontSize": 14, "dx": -3, "color": "#1a1a1a"},
"encoding": {"x": {"field": "col", "type": "nominal"}, "y": {"field": "row", "type": "nominal"}, "text": {"field": "label"}}
},
{
"transform": [{"filter": "datum.row != 'h' && datum.col == 'Ajusted Pvalue'"}],
"mark": {"type": "text", "fontSize": 14, "color": "#1a1a1a"},
"encoding": {"x": {"field": "col", "type": "nominal", "bandPosition": 1}, "y": {"field": "row", "type": "nominal"}, "text": {"field": "label"}}
}
]
}
],
"resolve": {"scale": {"x": "independent", "y": "independent"}}
},
{
"data": {"name": "hits"},
"facet": {"row": {"field": "term", "type": "nominal", "sort": ["Olfactory Transduction", "Pentose Phosphate Pathway", "Pentose And Glucuronate Interconversions", "Ascorbate And Aldarate Metabolism", "Drug Metabolism Other Enzymes", "Protein Export", "Steroid Hormone Biosynthesis"], "header": null, "title": null}},
"spacing": 5,
"bounds": "flush",
"spec": {
"width": 531, "height": 32,
"mark": {"type": "rule", "strokeWidth": 1.6, "opacity": 0.85},
"encoding": {
"x": {"field": "rank", "type": "quantitative", "scale": {"domain": [0, 531], "nice": false, "zero": false},
"axis": {"title": "Rank in Ordered Dataset", "labels": false, "ticks": false, "domain": false, "grid": false, "titleFontSize": 19.5, "titleFontWeight": "normal", "titleColor": "#000000", "titlePadding": 10}},
"color": {"field": "term", "type": "nominal", "legend": null}
}
}
}
],
"spacing": 5,
"bounds": "flush",
"resolve": {"scale": {"color": "shared"}}
}
